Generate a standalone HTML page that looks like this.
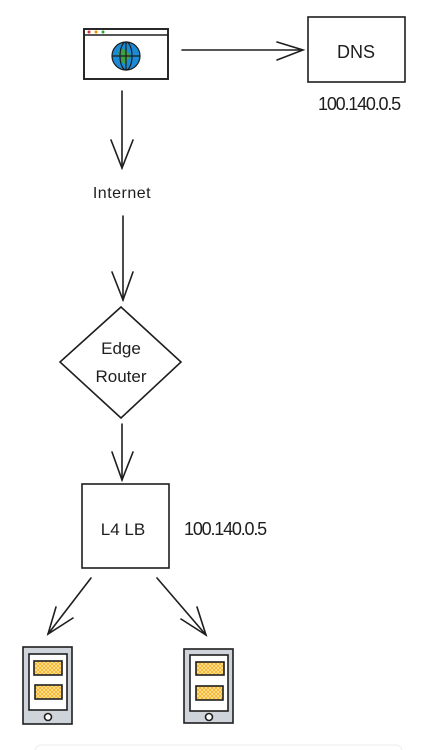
<!DOCTYPE html>
<html><head><style>
html,body{margin:0;padding:0;background:#fff;width:423px;height:750px;overflow:hidden}
text{font-family:"Liberation Sans",sans-serif;fill:#1e1e1e}
</style></head><body>
<svg width="423" height="750" viewBox="0 0 423 750" xmlns="http://www.w3.org/2000/svg">
<defs>
<pattern id="hatch" width="4" height="4" patternUnits="userSpaceOnUse">
<rect width="4" height="4" fill="#ffe8a8"/>
<path d="M0 0L4 4M4 0L0 4" stroke="#f5b021" stroke-width="0.9"/>
</pattern>
</defs>
<g stroke="#1e1e1e" fill="none" stroke-width="1.6" stroke-linecap="round">
<!-- browser -->
<rect x="84" y="29" width="84" height="50" fill="#fff" stroke-width="1.9"/>
<line x1="85" y1="35" x2="167" y2="35"/>
<circle cx="126" cy="56" r="14" fill="#1c8bd6" stroke-width="1.2"/>
<path d="M119 50 q6 -3 8 2 q5 2 3 6 q-4 2 -4 7 q-5 -2 -4 -6 q-5 -2 -3 -9z" fill="#3ea046" stroke="none"/>
<ellipse cx="126" cy="56" rx="6" ry="14" stroke-width="1.2"/>
<line x1="112" y1="56" x2="140" y2="56" stroke-width="1.2"/>
<line x1="126" y1="42" x2="126" y2="70" stroke-width="1.2"/>
<!-- arrow to DNS -->
<line x1="182" y1="50" x2="302" y2="50"/>
<path d="M277 42 L303 50 L277 60"/>
<!-- DNS box -->
<rect x="308" y="17" width="97" height="65"/>
<!-- down arrow 1 -->
<line x1="122" y1="91" x2="122" y2="168"/>
<path d="M111 140 L122 168 L133 140"/>
<!-- down arrow 2 -->
<line x1="123" y1="216" x2="123" y2="300"/>
<path d="M112 272 L123 300 L133 272"/>
<!-- diamond -->
<path d="M121 307 L181 362 L121 418 L60 362 Z"/>
<!-- down arrow 3 -->
<line x1="122" y1="424" x2="122" y2="480"/>
<path d="M112 452 L122 480 L133 452"/>
<!-- LB box -->
<rect x="82" y="484" width="87" height="84"/>
<!-- diagonal arrows -->
<line x1="91" y1="578" x2="48" y2="634"/>
<path d="M56 607 L48 634 L73 618"/>
<line x1="157" y1="578" x2="206" y2="635"/>
<path d="M181 619 L206 635 L197 607"/>
</g>
<!-- traffic lights -->
<circle cx="89" cy="32" r="1.5" fill="#e03131"/>
<circle cx="96" cy="32" r="1.5" fill="#f08c00"/>
<circle cx="103" cy="32" r="1.5" fill="#2f9e44"/>
<!-- phones -->
<g stroke="#1e1e1e" stroke-width="1.6">
<rect x="23" y="647" width="49" height="77" fill="#ced4da"/>
<rect x="29" y="654" width="38" height="56" fill="#fff"/>
<rect x="34" y="661" width="28" height="14" fill="url(#hatch)"/>
<rect x="35" y="685" width="27" height="14" fill="url(#hatch)"/>
<circle cx="48" cy="717" r="3.5" fill="#fff"/>
<rect x="184" y="649" width="49" height="74" fill="#ced4da"/>
<rect x="190" y="655" width="38" height="56" fill="#fff"/>
<rect x="196" y="662" width="28" height="13" fill="url(#hatch)"/>
<rect x="196" y="686" width="27" height="14" fill="url(#hatch)"/>
<circle cx="209" cy="717" r="3.5" fill="#fff"/>
</g>
<!-- texts -->
<text x="356" y="58" font-size="18" text-anchor="middle">DNS</text>
<text x="359" y="110" font-size="18" text-anchor="middle" letter-spacing="-1.2">100.140.0.5</text>
<text x="122" y="198" font-size="16" text-anchor="middle" letter-spacing="0.5">Internet</text>
<text x="121" y="354" font-size="17" text-anchor="middle">Edge</text>
<text x="121" y="382" font-size="17" text-anchor="middle">Router</text>
<text x="123" y="535" font-size="17" text-anchor="middle">L4 LB</text>
<text x="225" y="535" font-size="18" text-anchor="middle" letter-spacing="-1.2">100.140.0.5</text>
<!-- bottom card -->
<rect x="35" y="745" width="367" height="20" rx="6" fill="#fff" stroke="#e9ecef"/>
</svg>
</body></html>
